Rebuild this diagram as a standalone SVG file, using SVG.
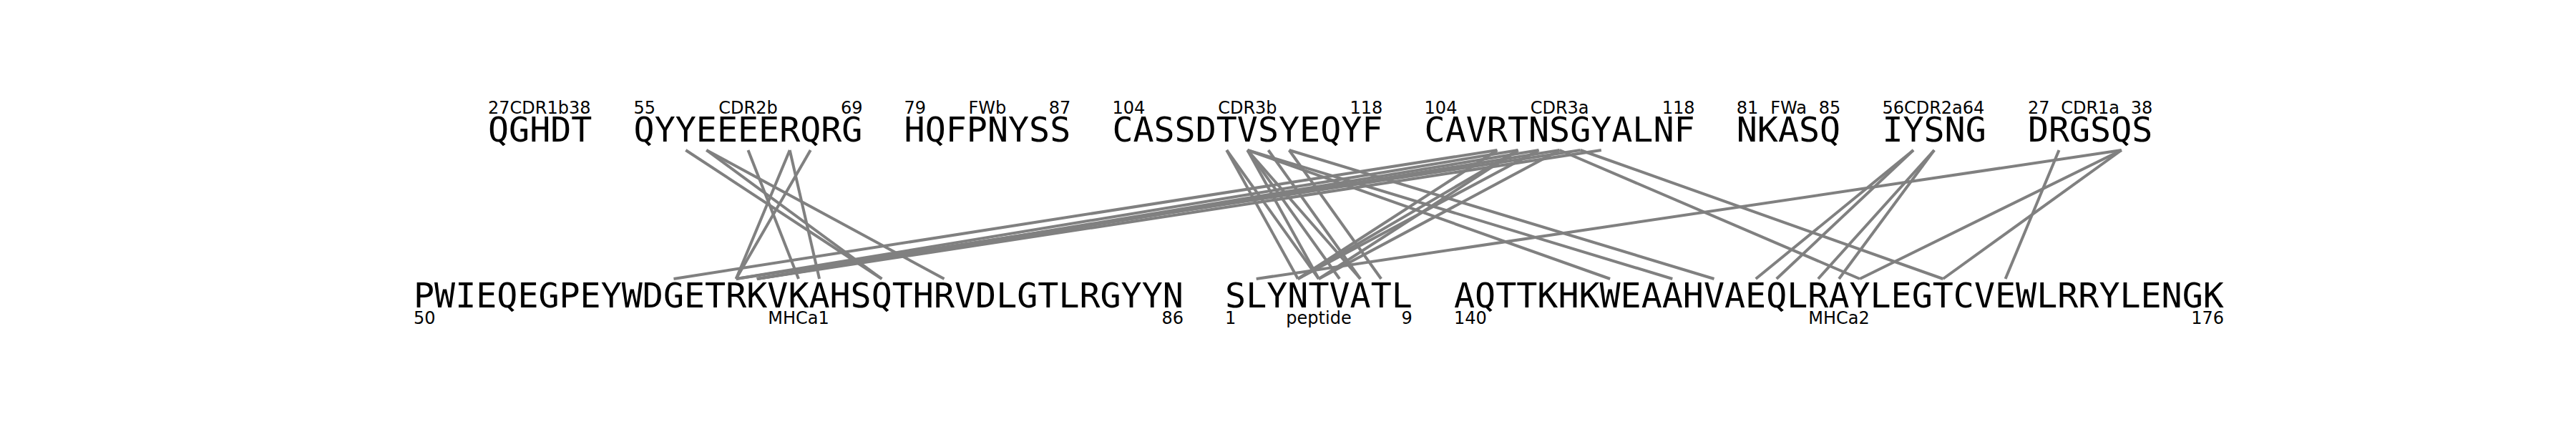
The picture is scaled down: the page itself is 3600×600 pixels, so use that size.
<svg xmlns="http://www.w3.org/2000/svg" width="3600" height="600" viewBox="0 0 3600 600">
<style>
.seq{font-family:"DejaVu Sans Mono",monospace;font-size:48.3px;fill:#000}
.lab{font-family:"DejaVu Sans",sans-serif;font-size:24px;fill:#000}
.m{text-anchor:middle}
.e{text-anchor:end}
#links line{stroke:#808080;stroke-width:4;stroke-linecap:butt}
</style>
<rect width="3600" height="600" fill="#fff"/>
<g id="links">
<line x1="958.3" y1="210" x2="1232.3" y2="390"/>
<line x1="987.3" y1="210" x2="1232.3" y2="390"/>
<line x1="987.3" y1="210" x2="1319.5" y2="390"/>
<line x1="1045.5" y1="210" x2="1116" y2="390"/>
<line x1="1103.7" y1="210" x2="1028.7" y2="390"/>
<line x1="1103.7" y1="210" x2="1145.1" y2="390"/>
<line x1="1132.7" y1="210" x2="1028.7" y2="390"/>
<line x1="2092.4" y1="210" x2="941.5" y2="390"/>
<line x1="2121.5" y1="210" x2="1028.7" y2="390"/>
<line x1="2150.5" y1="210" x2="1057.8" y2="390"/>
<line x1="2179.6" y1="210" x2="1057.8" y2="390"/>
<line x1="2208.7" y1="210" x2="1028.7" y2="390"/>
<line x1="2237.8" y1="210" x2="1057.8" y2="390"/>
<line x1="1714.3" y1="210" x2="1813.9" y2="390"/>
<line x1="1714.3" y1="210" x2="1843" y2="390"/>
<line x1="1743.4" y1="210" x2="1843" y2="390"/>
<line x1="1743.4" y1="210" x2="1872.1" y2="390"/>
<line x1="1743.4" y1="210" x2="1901.1" y2="390"/>
<line x1="1772.5" y1="210" x2="1901.1" y2="390"/>
<line x1="1801.6" y1="210" x2="1930.2" y2="390"/>
<line x1="1743.4" y1="210" x2="2250.1" y2="390"/>
<line x1="1743.4" y1="210" x2="2337.3" y2="390"/>
<line x1="1801.6" y1="210" x2="2395.5" y2="390"/>
<line x1="2092.4" y1="210" x2="1813.9" y2="390"/>
<line x1="2121.5" y1="210" x2="1813.9" y2="390"/>
<line x1="2121.5" y1="210" x2="1843" y2="390"/>
<line x1="2150.5" y1="210" x2="1813.9" y2="390"/>
<line x1="2179.6" y1="210" x2="1843" y2="390"/>
<line x1="2179.6" y1="210" x2="2599.1" y2="390"/>
<line x1="2208.7" y1="210" x2="2715.4" y2="390"/>
<line x1="2674" y1="210" x2="2453.7" y2="390"/>
<line x1="2674" y1="210" x2="2482.7" y2="390"/>
<line x1="2703.1" y1="210" x2="2540.9" y2="390"/>
<line x1="2703.1" y1="210" x2="2570" y2="390"/>
<line x1="2877.5" y1="210" x2="2802.6" y2="390"/>
<line x1="2964.8" y1="210" x2="1755.7" y2="390"/>
<line x1="2964.8" y1="210" x2="2599.1" y2="390"/>
<line x1="2964.8" y1="210" x2="2715.4" y2="390"/>
</g>
<g id="CDR1b"><text class="seq" x="682" y="198">QGHDT</text><text class="lab" x="682" y="159">27CDR1b38</text></g>
<g id="CDR2b"><text class="seq" x="885.6" y="198">QYYEEEERQRG</text><text class="lab" x="885.6" y="159">55</text><text class="lab m" x="1045.5" y="159">CDR2b</text><text class="lab e" x="1205.5" y="159">69</text></g>
<g id="FWb"><text class="seq" x="1263.6" y="198">HQFPNYSS</text><text class="lab" x="1263.6" y="159">79</text><text class="lab m" x="1379.9" y="159">FWb</text><text class="lab e" x="1496.2" y="159">87</text></g>
<g id="CDR3b"><text class="seq" x="1554.4" y="198">CASSDTVSYEQYF</text><text class="lab" x="1554.4" y="159">104</text><text class="lab m" x="1743.4" y="159">CDR3b</text><text class="lab e" x="1932.4" y="159">118</text></g>
<g id="CDR3a"><text class="seq" x="1990.6" y="198">CAVRTNSGYALNF</text><text class="lab" x="1990.6" y="159">104</text><text class="lab m" x="2179.6" y="159">CDR3a</text><text class="lab e" x="2368.6" y="159">118</text></g>
<g id="FWa"><text class="seq" x="2426.8" y="198">NKASQ</text><text class="lab" x="2426.8" y="159">81</text><text class="lab m" x="2499.5" y="159">FWa</text><text class="lab e" x="2572.2" y="159">85</text></g>
<g id="CDR2a"><text class="seq" x="2630.4" y="198">IYSNG</text><text class="lab" x="2630.4" y="159">56CDR2a64</text></g>
<g id="CDR1a"><text class="seq" x="2833.9" y="198">DRGSQS</text><text class="lab" x="2833.9" y="159">27</text><text class="lab m" x="2921.1" y="159">CDR1a</text><text class="lab e" x="3008.4" y="159">38</text></g>
<g id="MHCa1"><text class="seq" x="578" y="430">PWIEQEGPEYWDGETRKVKAHSQTHRVDLGTLRGYYN</text><text class="lab" x="578" y="453">50</text><text class="lab m" x="1116" y="453">MHCa1</text><text class="lab e" x="1654" y="453">86</text></g>
<g id="peptide"><text class="seq" x="1712.1" y="430">SLYNTVATL</text><text class="lab" x="1712.1" y="453">1</text><text class="lab m" x="1843" y="453">peptide</text><text class="lab e" x="1973.8" y="453">9</text></g>
<g id="MHCa2"><text class="seq" x="2032" y="430">AQTTKHKWEAAHVAEQLRAYLEGTCVEWLRRYLENGK</text><text class="lab" x="2032" y="453">140</text><text class="lab m" x="2570" y="453">MHCa2</text><text class="lab e" x="3108" y="453">176</text></g>
</svg>
